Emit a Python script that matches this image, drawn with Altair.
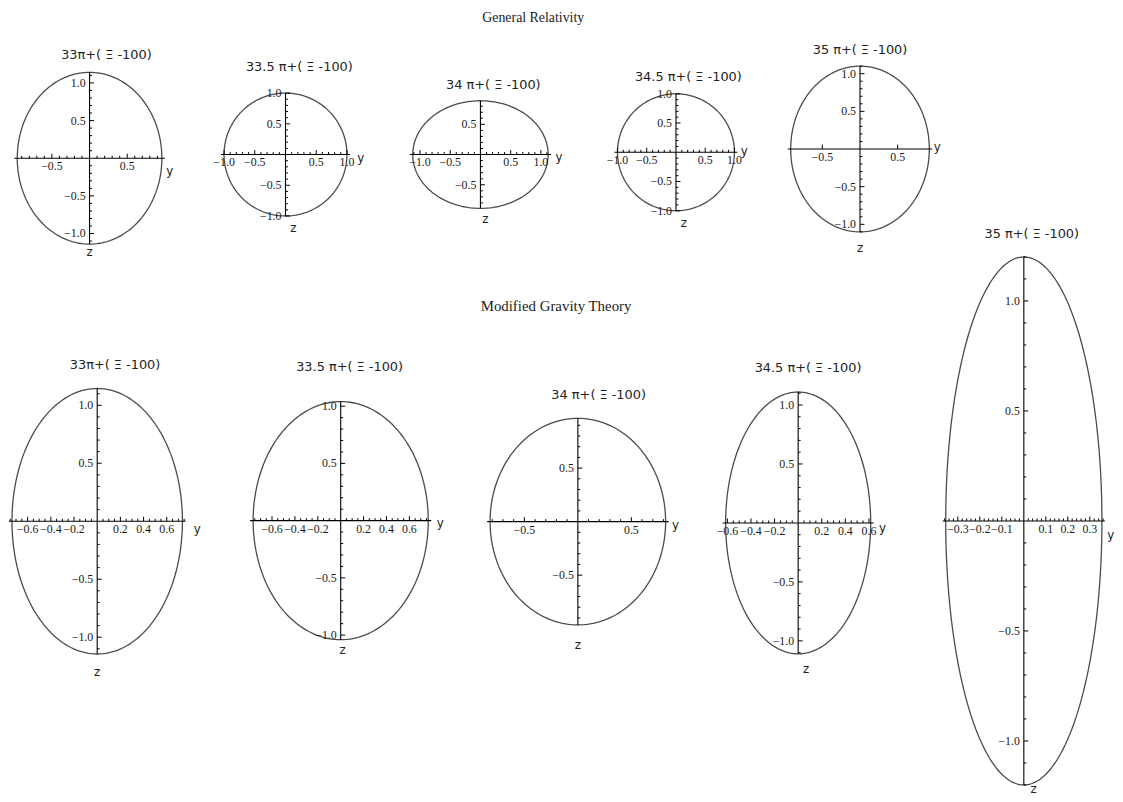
import altair as alt
import numpy as np
import pandas as pd

# ---------------- data ----------------
panel_titles = ["33π+( Ξ -100)", "33.5 π+( Ξ -100)", "34 π+( Ξ -100)", "34.5 π+( Ξ -100)", "35 π+( Ξ -100)",
                "33π+( Ξ -100)", "33.5 π+( Ξ -100)", "34 π+( Ξ -100)", "34.5 π+( Ξ -100)", "35 π+( Ξ -100)"]
section_titles = ["General Relativity", "Modified Gravity Theory"]

# semi-axes of the deformed ring (y direction, z direction)
semi_y = [0.96, 1.0, 1.12, 1.0, 0.92, 0.735, 0.765, 0.82, 0.615, 0.355]
semi_z = [1.14, 1.0, 0.89, 1.0, 1.10, 1.145, 1.04, 0.965, 1.11, 1.2]

# labelled ticks on the y (horizontal) and z (vertical) axes
y_ticks = [[-0.5, 0.5], [-1.0, -0.5, 0.5, 1.0], [-1.0, -0.5, 0.5, 1.0], [-1.0, -0.5, 0.5, 1.0], [-0.5, 0.5],
           [-0.6, -0.4, -0.2, 0.2, 0.4, 0.6], [-0.6, -0.4, -0.2, 0.2, 0.4, 0.6], [-0.5, 0.5],
           [-0.6, -0.4, -0.2, 0.2, 0.4, 0.6], [-0.3, -0.2, -0.1, 0.1, 0.2, 0.3]]
z_ticks = [[-1.0, -0.5, 0.5, 1.0], [-1.0, -0.5, 0.5, 1.0], [-0.5, 0.5], [-1.0, -0.5, 0.5, 1.0], [-1.0, -0.5, 0.5, 1.0],
           [-1.0, -0.5, 0.5, 1.0], [-1.0, -0.5, 0.5, 1.0], [-0.5, 0.5], [-1.0, -0.5, 0.5, 1.0], [-1.0, -0.5, 0.5, 1.0]]
y_minor_step = [0.1, 0.1, 0.1, 0.1, 0, 0.05, 0.05, 0.1, 0.05, 0.02]
z_minor_step = [0.1] * 10

# ---------------- layout (page pixels) ----------------
layout = [
    dict(box=(8, 195, 8, 282), cx=88.3, cy=156.0, k=76, tdx=17, tgap=17.6, ydx=5, ydy=13, zdx=0, zdy=8),
    dict(box=(195, 395, 8, 282), cx=286.0, cy=152.3, k=62, tdx=14, tgap=26, ydx=11, ydy=4, zdx=8, zdy=12),
    dict(box=(395, 590, 8, 282), cx=482.7, cy=152.3, k=61, tdx=13, tgap=16, ydx=8, ydy=3, zdx=5, zdy=11),
    dict(box=(590, 775, 8, 282), cx=680.0, cy=150.0, k=59, tdx=12.5, tgap=17, ydx=7, ydy=-1, zdx=8, zdy=12),
    dict(box=(775, 947, 8, 282), cx=865.7, cy=146.7, k=76, tdx=0, tgap=16, ydx=5, ydy=-2, zdx=0, zdy=16),
    dict(box=(8, 230, 282, 794), cx=96.0, cy=522.3, k=117, tdx=18, tgap=23.3, ydx=12, ydy=8, zdx=0, zdy=18),
    dict(box=(230, 465, 282, 794), cx=341.7, cy=521.7, k=115.5, tdx=9, tgap=35, ydx=9, ydy=2, zdx=2, zdy=10),
    dict(box=(465, 700, 282, 794), cx=581.0, cy=522.7, k=108, tdx=21, tgap=23.3, ydx=7, ydy=3, zdx=0, zdy=20),
    dict(box=(700, 947, 282, 794), cx=803.3, cy=524.0, k=119, tdx=10, tgap=24.4, ydx=9, ydy=5, zdx=8, zdy=15),
    dict(box=(947, 1115, 8, 794), cx=1030.0, cy=522.0, k=222, tdx=8, tgap=23, ydx=6, ydy=14, zdx=10, zdy=4),
]

SERIF = "Liberation Serif"
SANS = "DejaVu Sans"


def fmt(v):
    s = f"{v:.1f}"
    return s.replace("-", "−")


def minor_vals(step, rng, majors):
    if not step:
        return []
    n = int(np.floor(rng / step + 1e-9))
    vals = [round(j * step, 4) for j in range(-n, n + 1)]
    return [v for v in vals if abs(v) > 1e-9 and all(abs(v - m) > 1e-6 for m in majors)]


def panel(i, extra=None):
    L = layout[i]
    X0, X1, Y0, Y1 = L["box"]
    cx, cy, k = L["cx"], L["cy"], L["k"]
    W, H = X1 - X0, Y1 - Y0
    sx = alt.Scale(domain=[(X0 - cx) / k, (X1 - cx) / k], nice=False, zero=False)
    sy = alt.Scale(domain=[(cy - Y1) / k, (cy - Y0) / k], nice=False, zero=False)
    ya, za = semi_y[i], semi_z[i]
    xr = ya + 3.0 / k
    zr = za

    def X(f):
        return alt.X(f, type="quantitative", scale=sx, axis=None)

    def Y(f):
        return alt.Y(f, type="quantitative", scale=sy, axis=None)

    # ellipse drawn from its two semi-axes
    ell = alt.Chart(alt.sequence(0, 361, 2, as_="t")).transform_calculate(
        py=f"{ya} * cos(datum.t * PI / 180)",
        pz=f"{za} * sin(datum.t * PI / 180)",
    ).mark_line(color="#4a4a4a", strokeWidth=1.3).encode(x=X("py"), y=Y("pz"), order="t:Q")

    axes_df = pd.DataFrame({"x": [-xr, 0.0], "x2": [xr, 0.0], "y": [0.0, -zr], "y2": [0.0, zr]})
    axes = alt.Chart(axes_df).mark_rule(color="black", strokeWidth=1.1).encode(
        x=X("x"), x2=alt.X2("x2"), y=Y("y"), y2=alt.Y2("y2"))

    maj_len, min_len = 4.5 / k, 2.5 / k
    ymaj = pd.DataFrame({"v": y_ticks[i], "zero": 0.0, "len": maj_len, "lab": [fmt(v) for v in y_ticks[i]]})
    zmaj = pd.DataFrame({"v": z_ticks[i], "zero": 0.0, "len": maj_len, "lab": [fmt(v) for v in z_ticks[i]]})
    ymin_v = minor_vals(y_minor_step[i], xr, y_ticks[i])
    zmin_v = minor_vals(z_minor_step[i], zr, z_ticks[i])
    ymin = pd.DataFrame({"v": ymin_v, "zero": [0.0] * len(ymin_v), "len": [min_len] * len(ymin_v)})
    zmin = pd.DataFrame({"v": zmin_v, "zero": [0.0] * len(zmin_v), "len": [min_len] * len(zmin_v)})

    tick = dict(color="black", strokeWidth=1)
    layers = [ell, axes,
              alt.Chart(ymaj).mark_rule(**tick).encode(x=X("v"), y=Y("zero"), y2=alt.Y2("len")),
              alt.Chart(zmaj).mark_rule(**tick).encode(y=Y("v"), x=X("zero"), x2=alt.X2("len"))]
    if len(ymin_v):
        layers.append(alt.Chart(ymin).mark_rule(**tick).encode(x=X("v"), y=Y("zero"), y2=alt.Y2("len")))
    if len(zmin_v):
        layers.append(alt.Chart(zmin).mark_rule(**tick).encode(y=Y("v"), x=X("zero"), x2=alt.X2("len")))

    layers.append(alt.Chart(ymaj).mark_text(font=SERIF, fontSize=12, color="#1a1a1a", baseline="top", dy=3)
                  .encode(x=X("v"), y=Y("zero"), text="lab:N"))
    layers.append(alt.Chart(zmaj).mark_text(font=SERIF, fontSize=12, color="#1a1a1a", align="right",
                                            baseline="middle", dx=-4)
                  .encode(y=Y("v"), x=X("zero"), text="lab:N"))

    title_df = pd.DataFrame({"x": [0.0], "y": [za], "lab": [panel_titles[i]]})
    layers.append(alt.Chart(title_df).mark_text(font=SANS, fontSize=13, color="#222", baseline="middle",
                                                dx=L["tdx"], dy=-L["tgap"])
                  .encode(x=X("x"), y=Y("y"), text="lab:N"))
    ylab = pd.DataFrame({"x": [xr], "y": [0.0], "lab": ["y"]})
    layers.append(alt.Chart(ylab).mark_text(font=SANS, fontSize=12, color="#222", baseline="middle",
                                            dx=L["ydx"], dy=L["ydy"])
                  .encode(x=X("x"), y=Y("y"), text="lab:N"))
    zlab = pd.DataFrame({"x": [0.0], "y": [-zr], "lab": ["z"]})
    layers.append(alt.Chart(zlab).mark_text(font=SANS, fontSize=12, color="#222", baseline="middle",
                                            dx=L["zdx"], dy=L["zdy"])
                  .encode(x=X("x"), y=Y("y"), text="lab:N"))
    if extra is not None:
        txt, px, py, fs = extra
        layers.append(alt.Chart(pd.DataFrame({"lab": [txt]})).mark_text(
            font=SERIF, fontSize=fs, color="#222", baseline="top")
            .encode(x=alt.value(px - X0), y=alt.value(py - Y0), text="lab:N"))
    return alt.layer(*layers).properties(width=W, height=H)


gr_panels = [panel(i, extra=(section_titles[0], 536, 8, 14) if i == 2 else None) for i in range(5)]
mg_panels = [panel(i, extra=(section_titles[1], 559, 298, 15) if i == 7 else None) for i in range(5, 9)]

gr_row = alt.hconcat(*gr_panels, spacing=0, bounds="flush")
mg_row = alt.hconcat(*mg_panels, spacing=0, bounds="flush")
left = alt.vconcat(gr_row, mg_row, spacing=0)
chart = alt.hconcat(left, panel(9), spacing=0).properties(
    padding=0, background="white"
).configure_view(strokeWidth=0)

chart.save("out.html", embed_options={"renderer": "svg", "actions": False})
